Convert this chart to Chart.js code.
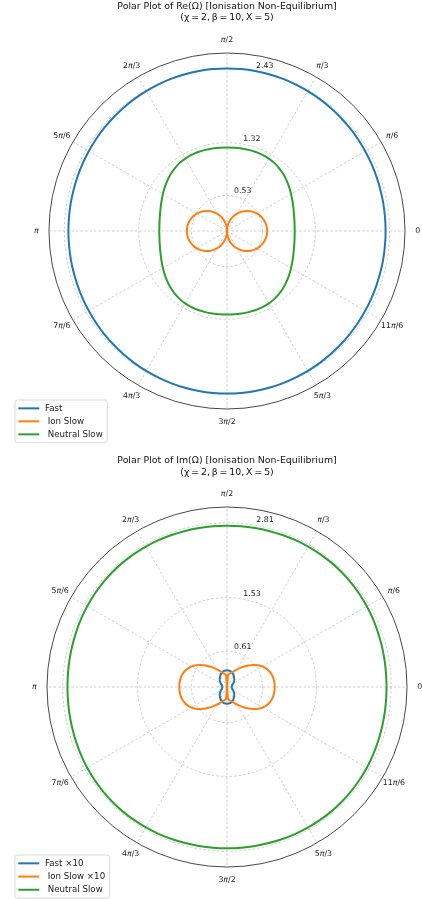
<!DOCTYPE html>
<html>
<head>
<meta charset="utf-8">
<script src="https://cdn.jsdelivr.net/npm/chart.js@4.4.1/dist/chart.umd.min.js"></script>
<style>
  html, body { margin: 0; padding: 0; background: #fff; }
  .plot { position: absolute; left: 0; width: 422px; }
  #wrapTop { top: 0; height: 450px; }
  #wrapBot { top: 450px; height: 449px; }
</style>
</head>
<body>
<div class="plot" id="wrapTop"><canvas id="cTop"></canvas></div>
<div class="plot" id="wrapBot"><canvas id="cBot"></canvas></div>
<script>
// polar angle of every sample, degrees, counter-clockwise from the +x axis
const thetaDeg = [
  0, 5, 10, 15, 20, 25, 30, 35, 40, 45, 50, 55, 60, 65, 70, 75, 80, 85,
  90, 95, 100, 105, 110, 115, 120, 125, 130, 135, 140, 145, 150, 155, 160, 165, 170, 175,
  180, 185, 190, 195, 200, 205, 210, 215, 220, 225, 230, 235, 240, 245, 250, 255, 260, 265,
  270, 275, 280, 285, 290, 295, 300, 305, 310, 315, 320, 325, 330, 335, 340, 345, 350, 355
];
const thetaTickDeg = [0, 30, 60, 90, 120, 150, 180, 210, 240, 270, 300, 330];
const thetaTickLabels = ['0', 'π/6', 'π/3', 'π/2', '2π/3', '5π/6', 'π', '7π/6', '4π/3', '3π/2', '5π/3', '11π/6'];

// Re(Ω)
const reFast = [
  2.370, 2.370, 2.372, 2.374, 2.377, 2.381, 2.385, 2.390, 2.395, 2.400, 2.405, 2.410, 2.415, 2.419, 2.423, 2.426, 2.428, 2.430,
  2.430, 2.430, 2.428, 2.426, 2.423, 2.419, 2.415, 2.410, 2.405, 2.400, 2.395, 2.390, 2.385, 2.381, 2.377, 2.374, 2.372, 2.370,
  2.370, 2.370, 2.372, 2.374, 2.377, 2.381, 2.385, 2.390, 2.395, 2.400, 2.405, 2.410, 2.415, 2.419, 2.423, 2.426, 2.428, 2.430,
  2.430, 2.430, 2.428, 2.426, 2.423, 2.419, 2.415, 2.410, 2.405, 2.400, 2.395, 2.390, 2.385, 2.381, 2.377, 2.374, 2.372, 2.370
];
const reIonSlow = [
  0.600, 0.598, 0.591, 0.580, 0.564, 0.544, 0.520, 0.491, 0.460, 0.424, 0.386, 0.344, 0.300, 0.254, 0.205, 0.155, 0.104, 0.052,
  0.000, 0.052, 0.104, 0.155, 0.205, 0.254, 0.300, 0.344, 0.386, 0.424, 0.460, 0.491, 0.520, 0.544, 0.564, 0.580, 0.591, 0.598,
  0.600, 0.598, 0.591, 0.580, 0.564, 0.544, 0.520, 0.491, 0.460, 0.424, 0.386, 0.344, 0.300, 0.254, 0.205, 0.155, 0.104, 0.052,
  0.000, 0.052, 0.104, 0.155, 0.205, 0.254, 0.300, 0.344, 0.386, 0.424, 0.460, 0.491, 0.520, 0.544, 0.564, 0.580, 0.591, 0.598
];
const reNeutralSlow = [
  1.012, 1.014, 1.022, 1.035, 1.054, 1.078, 1.106, 1.136, 1.166, 1.195, 1.219, 1.238, 1.250, 1.256, 1.257, 1.255, 1.252, 1.250,
  1.249, 1.250, 1.252, 1.255, 1.257, 1.256, 1.250, 1.238, 1.219, 1.195, 1.166, 1.136, 1.106, 1.078, 1.054, 1.035, 1.022, 1.014,
  1.012, 1.014, 1.022, 1.035, 1.054, 1.078, 1.106, 1.136, 1.166, 1.195, 1.219, 1.238, 1.250, 1.256, 1.257, 1.255, 1.252, 1.250,
  1.249, 1.250, 1.252, 1.255, 1.257, 1.256, 1.250, 1.238, 1.219, 1.195, 1.166, 1.136, 1.106, 1.078, 1.054, 1.035, 1.022, 1.014
];
const reTicks = [0.53, 1.32, 2.43];
const reMax = 2.66;

// Im(Ω), fast and ion slow scaled x10
const imFast10 = [
  0.079, 0.080, 0.084, 0.089, 0.096, 0.108, 0.123, 0.140, 0.157, 0.175, 0.192, 0.209, 0.226, 0.245, 0.262, 0.274, 0.281, 0.284,
  0.286, 0.284, 0.281, 0.274, 0.262, 0.245, 0.226, 0.209, 0.192, 0.175, 0.157, 0.140, 0.123, 0.108, 0.096, 0.089, 0.084, 0.080,
  0.079, 0.080, 0.084, 0.089, 0.096, 0.108, 0.123, 0.140, 0.157, 0.175, 0.192, 0.209, 0.226, 0.245, 0.262, 0.274, 0.281, 0.284,
  0.286, 0.284, 0.281, 0.274, 0.262, 0.245, 0.226, 0.209, 0.192, 0.175, 0.157, 0.140, 0.123, 0.108, 0.096, 0.089, 0.084, 0.080
];
const imIonSlow10 = [
  0.816, 0.815, 0.809, 0.797, 0.775, 0.744, 0.702, 0.648, 0.585, 0.521, 0.459, 0.401, 0.350, 0.307, 0.273, 0.247, 0.226, 0.208,
  0.000, 0.208, 0.226, 0.247, 0.273, 0.307, 0.350, 0.401, 0.459, 0.521, 0.585, 0.648, 0.702, 0.744, 0.775, 0.797, 0.809, 0.815,
  0.816, 0.815, 0.809, 0.797, 0.775, 0.744, 0.702, 0.648, 0.585, 0.521, 0.459, 0.401, 0.350, 0.307, 0.273, 0.247, 0.226, 0.208,
  0.000, 0.208, 0.226, 0.247, 0.273, 0.307, 0.350, 0.401, 0.459, 0.521, 0.585, 0.648, 0.702, 0.744, 0.775, 0.797, 0.809, 0.815
];
const imNeutralSlow = [
  2.730, 2.731, 2.735, 2.740, 2.747, 2.755, 2.762, 2.769, 2.774, 2.777, 2.778, 2.777, 2.775, 2.772, 2.768, 2.765, 2.762, 2.761,
  2.760, 2.761, 2.762, 2.765, 2.768, 2.772, 2.775, 2.777, 2.778, 2.777, 2.774, 2.769, 2.762, 2.755, 2.747, 2.740, 2.735, 2.731,
  2.730, 2.731, 2.735, 2.740, 2.747, 2.755, 2.762, 2.769, 2.774, 2.777, 2.778, 2.777, 2.775, 2.772, 2.768, 2.765, 2.762, 2.761,
  2.760, 2.761, 2.762, 2.765, 2.768, 2.772, 2.775, 2.777, 2.778, 2.777, 2.774, 2.769, 2.762, 2.755, 2.747, 2.740, 2.735, 2.731
];
const imTicks = [0.61, 1.53, 2.81];
const imMax = 3.08;

const C_BLUE = '#1f77b4', C_ORANGE = '#ff7f0e', C_GREEN = '#2ca02c';
const GRID = '#b9b9b9';
const FONT = '"DejaVu Sans", sans-serif';
Chart.defaults.font.family = FONT;

// radar draws index 0 at the top and goes clockwise; map to math angles (0 at right, CCW)
const step = thetaDeg[1] - thetaDeg[0];
const chartTheta = thetaDeg.map((_, k) => ((90 - k * step) % 360 + 360) % 360);
const reorder = (arr) => chartTheta.map(t => arr[thetaDeg.indexOf(t)]);

// draw a label with the π in oblique, centred on (x, y)
function mathLabel(ctx, txt, x, y, size) {
  const parts = txt.split(/(π)/).filter(Boolean).map(t => ({ t, it: t === 'π' }));
  const fnt = p => (p.it ? 'oblique ' : '') + size + 'px ' + FONT;
  let w = 0;
  parts.forEach(p => { ctx.font = fnt(p); p.w = ctx.measureText(p.t).width; w += p.w; });
  let cx = x - w / 2;
  ctx.textAlign = 'left';
  parts.forEach(p => { ctx.font = fnt(p); ctx.fillText(p.t, cx, y); cx += p.w; });
}

const polarDecor = {
  id: 'polarDecor',
  afterDraw(chart, args, o) {
    const s = chart.scales.r, ctx = chart.ctx;
    ctx.save();
    ctx.fillStyle = '#222';
    ctx.textBaseline = 'middle';
    thetaTickDeg.forEach((d, j) => {
      const k = chartTheta.indexOf(d);
      const p = s.getPointPosition(k, s.drawingArea + 12.7);
      mathLabel(ctx, thetaTickLabels[j], p.x, p.y, 7.8);
    });
    ctx.font = '7.8px ' + FONT;
    ctx.textAlign = 'center';
    const kLab = chartTheta.indexOf(80);
    o.rTicks.forEach(v => {
      const p = s.getPointPosition(kLab, s.getDistanceFromCenterForValue(v));
      ctx.fillText(v.toFixed(2), p.x + 9.5, p.y - 5);
    });

    // legend box
    const L = o.legend;
    ctx.font = L.size + 'px ' + FONT;
    const items = chart.data.datasets;
    const tw = Math.max(...items.map(d => ctx.measureText(d.label).width));
    const w = L.textDx + tw + 4.5;
    const h = L.padY * 2 + L.rowH * (items.length - 1);
    const x = L.x, y = L.y, r = 2.5;
    ctx.beginPath();
    ctx.moveTo(x + r, y);
    ctx.arcTo(x + w, y, x + w, y + h, r);
    ctx.arcTo(x + w, y + h, x, y + h, r);
    ctx.arcTo(x, y + h, x, y, r);
    ctx.arcTo(x, y, x + w, y, r);
    ctx.closePath();
    ctx.fillStyle = 'rgba(255,255,255,0.8)';
    ctx.fill();
    ctx.strokeStyle = '#cfcfcf';
    ctx.lineWidth = 0.8;
    ctx.stroke();
    ctx.textAlign = 'left';
    items.forEach((d, i) => {
      const yy = y + L.padY + i * L.rowH;
      ctx.strokeStyle = d.borderColor;
      ctx.lineWidth = 2;
      ctx.beginPath();
      ctx.moveTo(x + 3.3, yy);
      ctx.lineTo(x + 24.3, yy);
      ctx.stroke();
      ctx.fillStyle = '#222';
      ctx.fillText(d.label, x + L.textDx, yy);
    });
    ctx.restore();
  }
};

function makePolar(id, cfg) {
  const last = cfg.rTicks.length + 1;
  return new Chart(document.getElementById(id), {
    type: 'radar',
    data: {
      labels: chartTheta.map(String),
      datasets: cfg.series.map((s, i) => ({
        label: s.label,
        data: reorder(s.values),
        borderColor: s.color,
        backgroundColor: s.color,
        borderWidth: 2,
        pointRadius: 0,
        fill: false,
        tension: 0.3,
        order: cfg.series.length - i
      }))
    },
    options: {
      responsive: true,
      maintainAspectRatio: false,
      animation: false,
      events: [],
      layout: { padding: cfg.padding },
      plugins: {
        legend: { display: false },
        tooltip: { enabled: false },
        title: {
          display: true,
          text: cfg.title,
          color: '#111',
          font: { size: 9.4, weight: 'normal', lineHeight: 11.3 / 9.4 },
          padding: cfg.titlePad
        },
        polarDecor: { rTicks: cfg.rTicks, legend: cfg.legend }
      },
      scales: {
        r: {
          min: 0,
          max: cfg.rMax,
          afterBuildTicks: (sc) => { sc.ticks = [0, ...cfg.rTicks, cfg.rMax].map(v => ({ value: v })); },
          ticks: { display: false },
          pointLabels: { display: false },
          grid: {
            circular: true,
            color: c => (c.index === last ? '#333' : GRID),
            lineWidth: c => (c.index === last ? 0.9 : 0.7)
          },
          border: { dash: c => (c.index === last ? [] : [2.5, 2]) },
          angleLines: {
            color: GRID,
            borderDash: [2.5, 2],
            lineWidth: c => (chartTheta[c.index] % 30 === 0 ? 0.7 : 0)
          }
        }
      }
    },
    plugins: [polarDecor]
  });
}

makePolar('cTop', {
  title: ['Polar Plot of Re(Ω) [Ionisation Non-Equilibrium]', '(χ\u2009=\u20092,\u2009β\u2009=\u200910,\u2009X\u2009=\u20095)'],
  titlePad: { top: 0.65, bottom: 29.75 },
  padding: { left: 32, right: 0, top: 0, bottom: 41 },
  rTicks: reTicks,
  rMax: reMax,
  series: [
    { label: 'Fast', values: reFast, color: C_BLUE },
    { label: ' Ion Slow', values: reIonSlow, color: C_ORANGE },
    { label: ' Neutral Slow', values: reNeutralSlow, color: C_GREEN }
  ],
  legend: { x: 15, y: 400, padY: 8.35, rowH: 13, textDx: 30, size: 8.66 }
});

makePolar('cBot', {
  title: ['Polar Plot of Im(Ω) [Ionisation Non-Equilibrium]', '(χ\u2009=\u20092,\u2009β\u2009=\u200910,\u2009X\u2009=\u20095)'],
  titlePad: { top: 5.15, bottom: 29.25 },
  padding: { left: 32, right: 0, top: 0, bottom: 32 },
  rTicks: imTicks,
  rMax: imMax,
  series: [
    { label: 'Fast ×10', values: imFast10, color: C_BLUE },
    { label: ' Ion Slow ×10', values: imIonSlow10, color: C_ORANGE },
    { label: ' Neutral Slow', values: imNeutralSlow, color: C_GREEN }
  ],
  legend: { x: 15, y: 405, padY: 8.35, rowH: 13.2, textDx: 30, size: 8.66 }
});
</script>
</body>
</html>
